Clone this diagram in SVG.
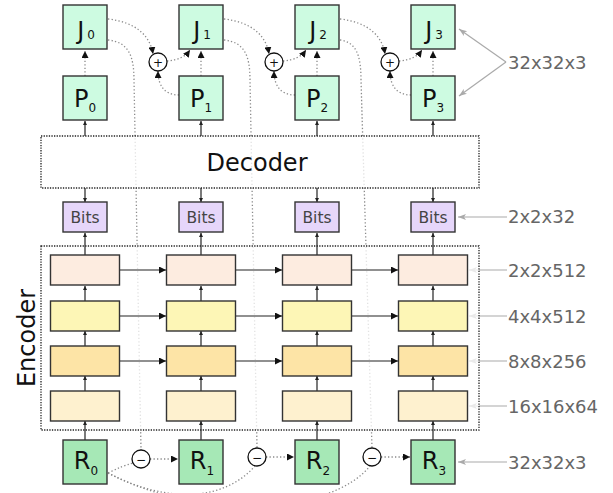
<svg xmlns="http://www.w3.org/2000/svg" width="613" height="493" viewBox="0 0 613 493">
<style>
text{font-family:"DejaVu Sans","Liberation Sans",sans-serif;}
.img{fill:#cdfbe1;stroke:#333;stroke-width:1.4;}
.res{fill:#a6e8b6;stroke:#333;stroke-width:1.4;}
.bits{fill:#e6d6fa;stroke:#333;stroke-width:1.4;}
.r1{fill:#fdece0;stroke:#333;stroke-width:1.4;}
.r2{fill:#fdf6b6;stroke:#333;stroke-width:1.4;}
.r3{fill:#fde4a6;stroke:#333;stroke-width:1.4;}
.r4{fill:#fef1cf;stroke:#333;stroke-width:1.4;}
.big{font-size:24px;fill:#111;text-anchor:middle;}
.sub{font-size:12px;}
.btxt{font-size:15.5px;fill:#444;text-anchor:middle;}
.lbl{font-size:18px;fill:#666;}
.cont{fill:#fff;fill-opacity:0.75;stroke:#222;stroke-width:1.3;stroke-dasharray:1.3,1.3;}
.dot{fill:none;stroke:#8a8a8a;stroke-width:1.3;stroke-dasharray:1.3,2.2;}
.sol{fill:none;stroke:#222;stroke-width:1.2;}
.gl{fill:none;stroke:#aaa;stroke-width:1.2;}
.op{fill:#fff;stroke:#111;stroke-width:1.3;}
.opt{font-size:12px;fill:#111;text-anchor:middle;}
</style>
<defs>
<marker id="ah" markerUnits="userSpaceOnUse" markerWidth="8" markerHeight="7" refX="7" refY="3.5" orient="auto"><path d="M0,0 L7,3.5 L0,7 z" fill="#111"/></marker>
<marker id="as" markerUnits="userSpaceOnUse" markerWidth="5" markerHeight="5" refX="4" refY="2" orient="auto"><path d="M0,0 L4,2 L0,4 z" fill="#222"/></marker>
<marker id="ag" markerUnits="userSpaceOnUse" markerWidth="9" markerHeight="7" refX="8" refY="3" orient="auto"><path d="M0,0 L8,3 L0,6 L2,3 z" fill="#aaa"/></marker>
</defs>

<g id="connectors">
  <path class="dot" d="M85,76 L85,51" marker-end="url(#ah)"/>
  <path class="dot" d="M201,76 L201,51" marker-end="url(#ah)"/>
  <path class="dot" d="M317,76 L317,51" marker-end="url(#ah)"/>
  <path class="dot" d="M433,76 L433,51" marker-end="url(#ah)"/>

  <path class="dot" d="M108,19 C135,22 150,35 153,54" marker-end="url(#ah)"/>
  <path class="dot" d="M167,61 C178,60 185,57 190,50" marker-end="url(#ah)"/>
  <path class="dot" d="M179,95 C165,95 158,86 158,71" marker-end="url(#ah)"/>

  <path class="dot" d="M224,19 C251,22 266,35 269,54" marker-end="url(#ah)"/>
  <path class="dot" d="M283,61 C294,60 301,57 306,50" marker-end="url(#ah)"/>
  <path class="dot" d="M295,95 C281,95 274,86 274,71" marker-end="url(#ah)"/>

  <path class="dot" d="M340,19 C367,22 382,35 385,54" marker-end="url(#ah)"/>
  <path class="dot" d="M399,61 C410,60 417,57 422,50" marker-end="url(#ah)"/>
  <path class="dot" d="M411,95 C397,95 390,86 390,71" marker-end="url(#ah)"/>

  <path class="dot" d="M108,40 C128,42 134,55 134,80 L141,450"/>
  <path class="dot" d="M224,40 C244,42 250,55 250,80 L257,448"/>
  <path class="dot" d="M340,40 C356,42 361,55 361,80 L372,448"/>

  <path class="dot" d="M150,459 L178,459" marker-end="url(#ah)"/>
  <path class="dot" d="M266,457 L294,457" marker-end="url(#ah)"/>
  <path class="dot" d="M381,457 L410,457" marker-end="url(#ah)"/>

  <path class="dot" d="M108,473 C118,468 126,465 133,463"/>
  <path class="dot" d="M108,473 C170,505 225,500 255,466"/>
  <path class="dot" d="M108,473 C200,521 330,515 370,466"/>

  <path class="gl" d="M506,62 L459,29" marker-end="url(#ag)"/>
  <path class="gl" d="M506,62 L459,96" marker-end="url(#ag)"/>
  <path class="gl" d="M507,217 L458,217" marker-end="url(#ag)"/>
  <path class="gl" d="M507,270 L469,270" marker-end="url(#ag)"/>
  <path class="gl" d="M507,316 L469,316" marker-end="url(#ag)"/>
  <path class="gl" d="M507,361 L469,361" marker-end="url(#ag)"/>
  <path class="gl" d="M507,406 L469,406" marker-end="url(#ag)"/>
  <path class="gl" d="M507,462 L458,462" marker-end="url(#ag)"/>
</g>

<g id="decoder">
  <rect class="cont" x="41" y="136" width="438" height="52"/>
  <text class="big" x="257" y="171">Decoder</text>
</g>
<g id="encoder">
  <rect class="cont" x="41" y="246" width="438" height="184"/>
  <text class="big" transform="translate(35,338) rotate(-90)">Encoder</text>
</g>

<g id="solid-arrows">
  <g marker-end="url(#as)">
    <path class="sol" d="M85,136 L85,121"/><path class="sol" d="M201,136 L201,121"/><path class="sol" d="M317,136 L317,121"/><path class="sol" d="M433,136 L433,121"/>
    <path class="sol" d="M85,188 L85,202"/><path class="sol" d="M201,188 L201,202"/><path class="sol" d="M317,188 L317,202"/><path class="sol" d="M433,188 L433,202"/>
    <path class="sol" d="M85,255 L85,233"/><path class="sol" d="M201,255 L201,233"/><path class="sol" d="M317,255 L317,233"/><path class="sol" d="M433,255 L433,233"/>
    <path class="sol" d="M85,301 L85,286"/><path class="sol" d="M201,301 L201,286"/><path class="sol" d="M317,301 L317,286"/><path class="sol" d="M433,301 L433,286"/>
    <path class="sol" d="M85,346 L85,331"/><path class="sol" d="M201,346 L201,331"/><path class="sol" d="M317,346 L317,331"/><path class="sol" d="M433,346 L433,331"/>
    <path class="sol" d="M85,391 L85,376"/><path class="sol" d="M201,391 L201,376"/><path class="sol" d="M317,391 L317,376"/><path class="sol" d="M433,391 L433,376"/>
    <path class="sol" d="M85,440 L85,421"/><path class="sol" d="M201,440 L201,421"/><path class="sol" d="M317,440 L317,421"/><path class="sol" d="M433,440 L433,421"/>
  </g>
  <g marker-end="url(#ah)">
    <path class="sol" d="M119.5,270 L166,270"/><path class="sol" d="M235.5,270 L282,270"/><path class="sol" d="M351.5,270 L398,270"/>
    <path class="sol" d="M119.5,316 L166,316"/><path class="sol" d="M235.5,316 L282,316"/><path class="sol" d="M351.5,316 L398,316"/>
    <path class="sol" d="M119.5,361 L166,361"/><path class="sol" d="M235.5,361 L282,361"/><path class="sol" d="M351.5,361 L398,361"/>
  </g>
</g>

<g id="J0"><rect class="img" x="63" y="5" width="44" height="44"/><text class="big" x="86" y="39">J<tspan class="sub" dx="3">0</tspan></text></g>
<g id="J1"><rect class="img" x="179" y="5" width="44" height="44"/><text class="big" x="202" y="39">J<tspan class="sub" dx="3">1</tspan></text></g>
<g id="J2"><rect class="img" x="295" y="5" width="44" height="44"/><text class="big" x="318" y="39">J<tspan class="sub" dx="3">2</tspan></text></g>
<g id="J3"><rect class="img" x="411" y="5" width="44" height="44"/><text class="big" x="434" y="39">J<tspan class="sub" dx="3">3</tspan></text></g>

<g id="P0"><rect class="img" x="63" y="76" width="44" height="44"/><text class="big" x="85" y="107">P<tspan class="sub" dy="5">0</tspan></text></g>
<g id="P1"><rect class="img" x="179" y="76" width="44" height="44"/><text class="big" x="201" y="107">P<tspan class="sub" dy="5">1</tspan></text></g>
<g id="P2"><rect class="img" x="295" y="76" width="44" height="44"/><text class="big" x="317" y="107">P<tspan class="sub" dy="5">2</tspan></text></g>
<g id="P3"><rect class="img" x="411" y="76" width="44" height="44"/><text class="big" x="433" y="107">P<tspan class="sub" dy="5">3</tspan></text></g>

<g id="plus1"><circle class="op" cx="158" cy="62" r="9"/><text class="opt" x="158" y="66.5">+</text></g>
<g id="plus2"><circle class="op" cx="274" cy="62" r="9"/><text class="opt" x="274" y="66.5">+</text></g>
<g id="plus3"><circle class="op" cx="390" cy="62" r="9"/><text class="opt" x="390" y="66.5">+</text></g>

<g id="Bits0"><rect class="bits" x="63" y="202" width="44" height="30"/><text class="btxt" x="85" y="223">Bits</text></g>
<g id="Bits1"><rect class="bits" x="179" y="202" width="44" height="30"/><text class="btxt" x="201" y="223">Bits</text></g>
<g id="Bits2"><rect class="bits" x="295" y="202" width="44" height="30"/><text class="btxt" x="317" y="223">Bits</text></g>
<g id="Bits3"><rect class="bits" x="411" y="202" width="44" height="30"/><text class="btxt" x="433" y="223">Bits</text></g>

<g id="enc-col0"><rect class="r1" x="50.5" y="255" width="69" height="30"/><rect class="r2" x="50.5" y="301" width="69" height="30"/><rect class="r3" x="50.5" y="346" width="69" height="30"/><rect class="r4" x="50.5" y="391" width="69" height="30"/></g>
<g id="enc-col1"><rect class="r1" x="166.5" y="255" width="69" height="30"/><rect class="r2" x="166.5" y="301" width="69" height="30"/><rect class="r3" x="166.5" y="346" width="69" height="30"/><rect class="r4" x="166.5" y="391" width="69" height="30"/></g>
<g id="enc-col2"><rect class="r1" x="282.5" y="255" width="69" height="30"/><rect class="r2" x="282.5" y="301" width="69" height="30"/><rect class="r3" x="282.5" y="346" width="69" height="30"/><rect class="r4" x="282.5" y="391" width="69" height="30"/></g>
<g id="enc-col3"><rect class="r1" x="398.5" y="255" width="69" height="30"/><rect class="r2" x="398.5" y="301" width="69" height="30"/><rect class="r3" x="398.5" y="346" width="69" height="30"/><rect class="r4" x="398.5" y="391" width="69" height="30"/></g>

<g id="R0"><rect class="res" x="63" y="440" width="44" height="44"/><text class="big" x="86" y="469">R<tspan class="sub" dy="6">0</tspan></text></g>
<g id="R1"><rect class="res" x="179" y="440" width="44" height="44"/><text class="big" x="202" y="469">R<tspan class="sub" dy="6">1</tspan></text></g>
<g id="R2"><rect class="res" x="295" y="440" width="44" height="44"/><text class="big" x="318" y="469">R<tspan class="sub" dy="6">2</tspan></text></g>
<g id="R3"><rect class="res" x="411" y="440" width="44" height="44"/><text class="big" x="434" y="469">R<tspan class="sub" dy="6">3</tspan></text></g>

<g id="minus1"><circle class="op" cx="141" cy="459" r="9"/><text class="opt" x="141" y="463.5">−</text></g>
<g id="minus2"><circle class="op" cx="257" cy="457" r="9"/><text class="opt" x="257" y="461.5">−</text></g>
<g id="minus3"><circle class="op" cx="372" cy="457" r="9"/><text class="opt" x="372" y="461.5">−</text></g>

<g id="labels">
  <text class="lbl" x="508" y="69">32x32x3</text>
  <text class="lbl" x="508" y="223">2x2x32</text>
  <text class="lbl" x="508" y="277">2x2x512</text>
  <text class="lbl" x="508" y="323">4x4x512</text>
  <text class="lbl" x="508" y="368">8x8x256</text>
  <text class="lbl" x="508" y="413">16x16x64</text>
  <text class="lbl" x="508" y="469">32x32x3</text>
</g>
</svg>
